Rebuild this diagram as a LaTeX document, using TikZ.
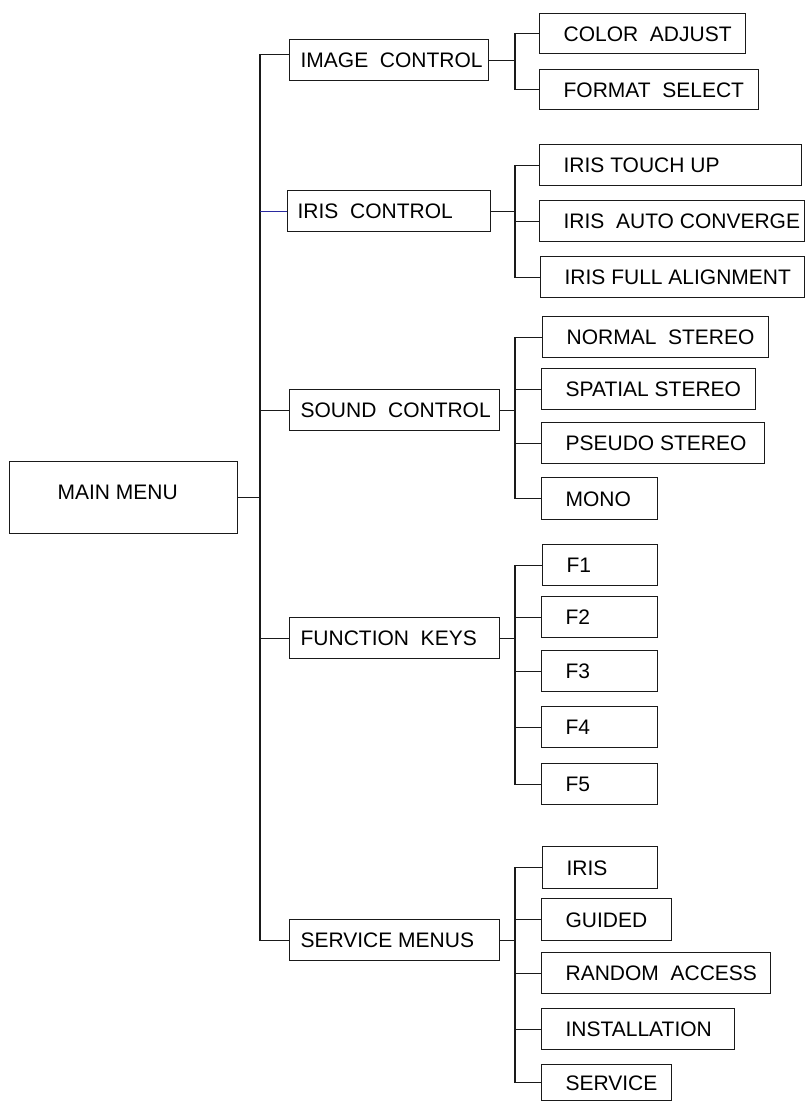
\documentclass[tikz,border=0pt]{standalone}
\usepackage{fontspec}
\setmainfont{Liberation Sans}
\definecolor{lnk}{HTML}{1A1A1A}
\definecolor{bluelnk}{HTML}{2A2AA0}
\newcommand{\bx}[7]{%
  \node[box, minimum height=#5pt] (#1) at (#2,#3) {\makebox[#4pt][l]{\hspace*{#6pt}#7}};}
\begin{document}
\begin{tikzpicture}[x=1pt,y=-1pt,
  box/.style={draw=lnk, line width=1.2pt, rectangle, anchor=north west, inner sep=0pt,
    text height=15pt, text depth=0pt, font=\fontsize{21}{25}\selectfont},
  con/.style={draw=lnk, line width=1.1pt},
  bcon/.style={draw=bluelnk, line width=1.1pt}]
\useasboundingbox (0,0) rectangle (807,1103);
\coordinate (tr) at (260,0);
\coordinate (st) at (515,0);
% main
\node[box, minimum height=72pt] (mm) at (9,461) {\makebox[228pt][l]{\hspace*{48pt}\raisebox{6pt}{MAIN MENU}}};
% level 1
\bx{ic}{289}{39}{199}{41}{11}{IMAGE\ \ CONTROL}
\bx{irc}{287}{190}{203}{41}{10}{IRIS\ \ CONTROL}
\bx{sc}{289}{389}{210}{41}{11}{SOUND\ \ CONTROL}
\bx{fk}{289}{617}{210}{41}{11}{FUNCTION\ \ KEYS}
\bx{sm}{289}{919}{210}{41}{11}{SERVICE MENUS}
% level 2
\bx{ca}{539}{13}{206}{40}{24}{COLOR\ \ ADJUST}
\bx{fs}{539}{69}{219}{40}{24}{FORMAT\ \ SELECT}
\bx{itu}{539}{144}{262}{41}{24}{IRIS TOUCH UP}
\bx{iac}{539}{200}{265}{41}{24}{IRIS\ \ AUTO CONVERGE}
\bx{ifa}{540}{256}{264}{41}{24}{IRIS FULL ALIGNMENT}
\bx{ns}{542}{316}{226}{41}{24}{NORMAL\ \ STEREO}
\bx{ss}{541}{368}{214}{41}{24}{SPATIAL STEREO}
\bx{ps}{541}{422}{223}{41}{24}{PSEUDO STEREO}
\bx{mo}{541}{477}{116}{42}{24}{MONO}
\bx{f1}{542}{544}{115}{41}{24}{F1}
\bx{f2}{541}{596}{116}{41}{24}{F2}
\bx{f3}{541}{650}{116}{41}{24}{F3}
\bx{f4}{541}{706}{116}{41}{24}{F4}
\bx{f5}{541}{763}{116}{41}{24}{F5}
\bx{ir}{542}{846}{115}{42}{24}{IRIS}
\bx{gd}{541}{898}{130}{42}{24}{GUIDED}
\bx{ra}{541}{952}{229}{41}{24}{RANDOM\ \ ACCESS}
\bx{in}{541}{1008}{193}{41}{24}{INSTALLATION}
\bx{sv}{541}{1064}{130}{36}{24}{SERVICE}
% trunk
\draw[con] ([yshift=5.5pt]ic.west) -- ([yshift=5.5pt]ic.west -| tr) -- (sm.west -| tr) -- (sm.west);
\draw[con] (mm.east) -- (mm.east -| tr);
\draw[bcon] (irc.west) -- (irc.west -| tr);
\draw[con] (sc.west) -- (sc.west -| tr);
\draw[con] (fk.west) -- (fk.west -| tr);
% image control
\draw[con] (ic.east) -- (ic.east -| st);
\draw[con] (ca.west) -- (ca.west -| st) -- (fs.west -| st) -- (fs.west);
% iris control
\draw[con] (irc.east) -- (irc.east -| st);
\draw[con] (itu.west) -- (itu.west -| st) -- (ifa.west -| st) -- (ifa.west);
\draw[con] (iac.west) -- (iac.west -| st);
% sound control
\draw[con] (sc.east) -- (sc.east -| st);
\draw[con] (ns.west) -- (ns.west -| st) -- (mo.west -| st) -- (mo.west);
\draw[con] (ss.west) -- (ss.west -| st);
\draw[con] (ps.west) -- (ps.west -| st);
% function keys
\draw[con] (fk.east) -- (fk.east -| st);
\draw[con] (f1.west) -- (f1.west -| st) -- (f5.west -| st) -- (f5.west);
\draw[con] (f2.west) -- (f2.west -| st);
\draw[con] (f3.west) -- (f3.west -| st);
\draw[con] (f4.west) -- (f4.west -| st);
% service menus
\draw[con] (sm.east) -- (sm.east -| st);
\draw[con] (ir.west) -- (ir.west -| st) -- (sv.west -| st) -- (sv.west);
\draw[con] (gd.west) -- (gd.west -| st);
\draw[con] (ra.west) -- (ra.west -| st);
\draw[con] (in.west) -- (in.west -| st);
\end{tikzpicture}
\end{document}
